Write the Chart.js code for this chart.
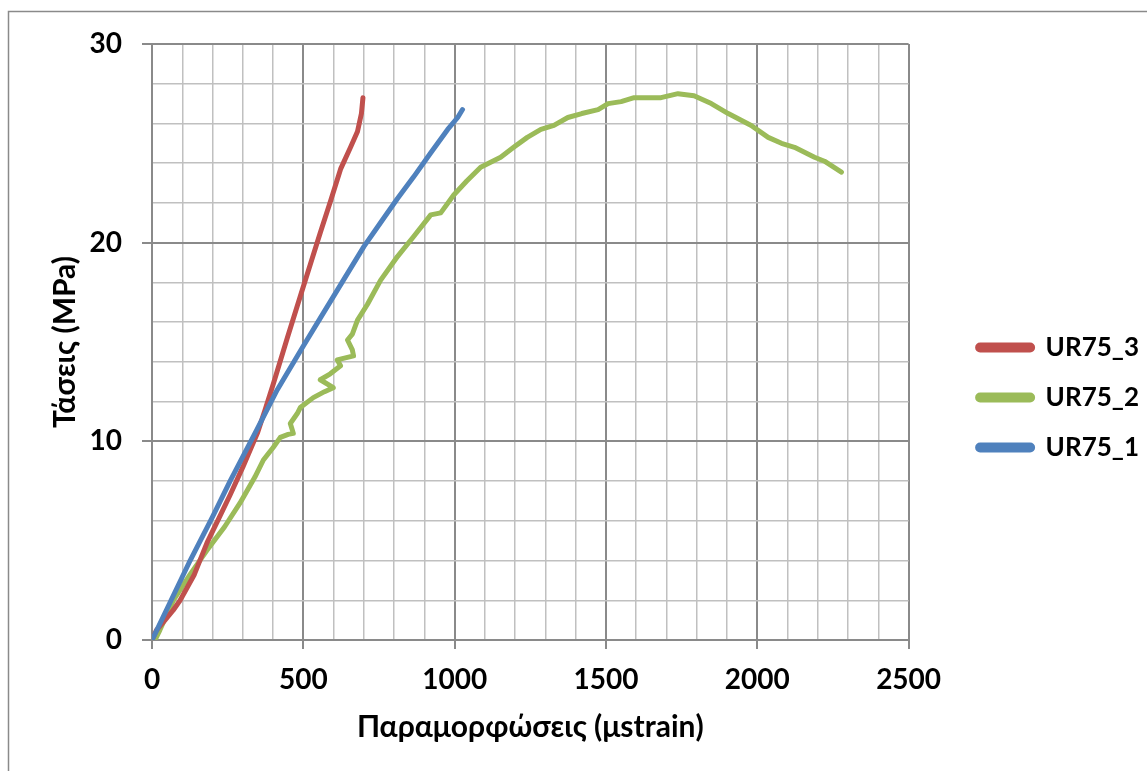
<!DOCTYPE html>
<html>
<head>
<meta charset="utf-8">
<script src="https://cdn.jsdelivr.net/npm/chart.js@4/dist/chart.umd.min.js"></script>
<style>
  body { margin: 0; background: #fff; }
  canvas { display: block; }
</style>
</head>
<body>
<canvas id="StressStrainChart" width="1147" height="771"></canvas>
<script>
// Series names (legend order)
const seriesNames = ['UR75_3', 'UR75_2', 'UR75_1'];

// UR75_3 (red)
const strain3 = [0, 15, 43, 70, 93, 140, 182, 220, 258, 300, 348, 374, 401, 447, 490, 523, 556, 590, 623, 656, 679, 692, 697];
const stress3 = [0, 0.5, 1.0, 1.5, 2.0, 3.3, 4.9, 6.1, 7.3, 8.7, 10.4, 11.6, 12.9, 15.2, 17.3, 18.9, 20.5, 22.1, 23.7, 24.8, 25.6, 26.5, 27.3];

// UR75_2 (green)
const strain2 = [10, 26, 71, 126, 181, 240, 291, 340, 368, 401, 424, 450, 467, 457, 480, 490, 533, 570, 599, 556, 589, 623, 612, 666, 662, 646, 662, 679, 712, 755, 811, 864, 921, 954, 997, 1040, 1086, 1152, 1195, 1240, 1285, 1328, 1374, 1420, 1474, 1507, 1550, 1593, 1640, 1682, 1738, 1791, 1848, 1904, 1980, 2036, 2080, 2123, 2189, 2222, 2278];
const stress2 = [0, 0.5, 2.0, 3.3, 4.5, 5.7, 6.9, 8.2, 9.06, 9.7, 10.2, 10.35, 10.4, 10.9, 11.4, 11.7, 12.2, 12.5, 12.7, 13.1, 13.4, 13.8, 14.1, 14.3, 14.6, 15.1, 15.4, 16.1, 16.9, 18.1, 19.3, 20.3, 21.4, 21.5, 22.4, 23.1, 23.8, 24.3, 24.8, 25.3, 25.7, 25.9, 26.3, 26.5, 26.7, 27.0, 27.1, 27.3, 27.3, 27.3, 27.5, 27.4, 27.0, 26.5, 25.9, 25.3, 25.0, 24.8, 24.3, 24.1, 23.55];

// UR75_1 (blue)
const strain1 = [0, 16, 60, 126, 200, 258, 347, 414, 500, 560, 632, 700, 755, 810, 864, 920, 977, 1010, 1026];
const stress1 = [0, 0.5, 1.9, 4.0, 6.2, 8.0, 10.6, 12.6, 14.8, 16.3, 18.1, 19.8, 21.0, 22.2, 23.3, 24.5, 25.7, 26.3, 26.7];

const toPoints = (xs, ys) => xs.map((x, i) => ({ x: x, y: ys[i] }));

const tickFont = { family: 'Lato', size: 28, weight: 'bold' };
const titleFont = { family: 'Lato', size: 30, weight: 'bold' };
const legendFont = { family: 'Lato', size: 26, weight: 'bold' };

// frame of the chart box (only left and top edges show)
const frame = {
    id: 'frame',
    beforeDraw(chart) {
        const c = chart.ctx;
        c.save();
        c.strokeStyle = '#8a8a8a';
        c.lineWidth = 1.5;
        c.beginPath();
        c.moveTo(8.5, 771);
        c.lineTo(8.5, 11.5);
        c.lineTo(1147, 11.5);
        c.stroke();
        c.restore();
    }
};

// nudge the legend to where Excel put it
const legendShift = {
    id: 'legendShift',
    afterLayout(chart) {
        chart.legend.left += 45;
        chart.legend.right += 45;
        chart.legend.top -= 10;
        chart.legend.bottom -= 10;
    }
};

const ctx = document.getElementById('StressStrainChart').getContext('2d');

new Chart(ctx, {
    type: 'scatter',
    data: {
        datasets: [
            {
                label: seriesNames[0],
                data: toPoints(strain3, stress3),
                borderColor: '#C0504D',
                backgroundColor: '#C0504D',
                order: 1
            },
            {
                label: seriesNames[1],
                data: toPoints(strain2, stress2),
                borderColor: '#9BBB59',
                backgroundColor: '#9BBB59',
                order: 2
            },
            {
                label: seriesNames[2],
                data: toPoints(strain1, stress1),
                borderColor: '#4F81BD',
                backgroundColor: '#4F81BD',
                order: 0
            }
        ]
    },
    options: {
        responsive: false,
        animation: false,
        showLine: true,
        layout: { padding: { left: 0, top: 44, right: 43, bottom: 0 } },
        elements: {
            point: { radius: 0, hoverRadius: 0 },
            line: { borderWidth: 5, borderCapStyle: 'round', borderJoinStyle: 'round', tension: 0 }
        },
        plugins: {
            tooltip: { enabled: false },
            legend: {
                position: 'right',
                labels: {
                    font: legendFont,
                    color: '#000',
                    boxWidth: 55,
                    boxHeight: 5,
                    useBorderRadius: true,
                    borderRadius: 2.5,
                    padding: 24,
                    sort: (a, b) => a.datasetIndex - b.datasetIndex
                }
            }
        },
        scales: {
            x: {
                type: 'linear',
                min: 0,
                max: 2500,
                afterFit: s => { s.height = 131; },
                ticks: {
                    stepSize: 100,
                    autoSkip: false,
                    maxRotation: 0,
                    padding: 14,
                    color: '#000',
                    font: tickFont,
                    callback: v => (v % 500 === 0 ? v : '')
                },
                grid: {
                    color: c => (c.tick && c.tick.value % 500 === 0 ? '#8a8a8a' : '#c0c0c0'),
                    lineWidth: c => (c.tick && c.tick.value % 500 === 0 ? 2 : 1.5),
                    tickColor: c => (c.tick && c.tick.value % 500 === 0 ? '#8a8a8a' : 'rgba(0,0,0,0)'),
                    tickLength: 9
                },
                border: { color: '#8a8a8a', width: 2 },
                title: {
                    display: true,
                    text: 'Παραμορφώσεις (μstrain)',
                    color: '#000',
                    font: titleFont,
                    padding: { top: 0, bottom: 26 }
                }
            },
            y: {
                min: 0,
                max: 30,
                afterFit: s => { s.width = 152; },
                ticks: {
                    stepSize: 2,
                    autoSkip: false,
                    padding: 20,
                    color: '#000',
                    font: tickFont,
                    callback: v => (v % 10 === 0 ? v : '')
                },
                grid: {
                    color: c => (c.tick && c.tick.value % 10 === 0 ? '#8a8a8a' : '#c0c0c0'),
                    lineWidth: c => (c.tick && c.tick.value % 10 === 0 ? 2 : 1.5),
                    tickColor: c => (c.tick && c.tick.value % 10 === 0 ? '#8a8a8a' : 'rgba(0,0,0,0)'),
                    tickLength: 10
                },
                border: { color: '#8a8a8a', width: 2 },
                title: {
                    display: true,
                    text: 'Τάσεις (MPa)',
                    color: '#000',
                    font: titleFont,
                    padding: { top: 47, bottom: 0 }
                }
            }
        }
    },
    plugins: [frame, legendShift]
});
</script>
</body>
</html>
